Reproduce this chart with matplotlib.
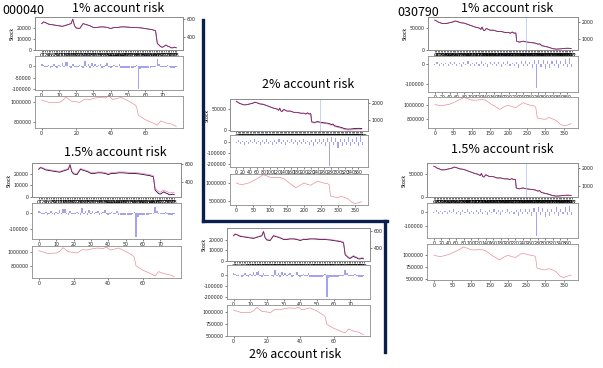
import matplotlib
matplotlib.use('Agg')
import matplotlib.pyplot as plt
from matplotlib.lines import Line2D

# ---- stock 000040 (shared top chart) ----
a_x = [0,1,2,4,6,8,10,12,14,15,17,18,19,20,22,24,25,26,28,30,32,34,36,38,40,42,44,46,48,50,
       52,54,56,58,60,62,64,65,66,67,68,69,70,71,72,73,74,75,76,77,78]
a_stock = [24000,25500,25000,23500,23000,22500,22000,21500,22500,23000,24000,28000,22000,20000,19500,
           24000,23500,23000,22000,20500,20500,21000,21000,20500,19500,20500,20500,21000,21000,20800,
           20500,20500,20300,20000,19500,19000,18500,18000,17500,6000,4500,3000,2500,3500,4500,3500,
           3000,2000,2000,2500,2000]
a_price = [549,567,561,543,537,530,524,518,530,537,549,598,524,500,494,552,543,537,524,506,506,512,
           512,506,494,506,506,512,512,510,506,506,504,500,494,488,482,476,470,329,311,293,287,299,
           311,299,293,280,280,287,280]

a_bar_x = list(range(79))
a_bars_1 = [10,3,-5,-5,2,-8,-3,8,-5,-8, 3,-6,12,-6,15,16,-5,-8,10,-6, -6,-6,2,-3,-8,22,-3,8,-8,12,
            -5,10,-5,3,8,-8,-5,2,12,-5, -8,-5,6,-6,-3,7,-8,-10,-10,-10, -10,-10,-8,-8,-6,6,-100,-15,-8,-8,
            -8,-8,-8,-8,-6,-6,-5,30,10,-6, -5,-6,-5,5,-6,-8,-8,-8,-6]
a_bars_15 = [15,5,-8,-8,3,-12,-5,12,-8,-12, 5,-9,18,-9,22,24,-8,-12,15,-9, -9,-9,3,-5,-12,33,-5,12,-12,18,
             -8,15,-8,5,12,-12,-8,3,18,-8, -12,-8,9,-9,-5,10,-12,-15,-15,-15, -15,-15,-12,-12,-9,9,-150,-22,-12,-12,
             -12,-12,-12,-12,-9,-9,-8,38,15,-9, -8,-9,-8,8,-9,-12,-12,-12,-9]
a_bars_2 = [20,6,-10,-10,4,-16,-6,16,-10,-16, 6,-12,24,-12,30,32,-10,-16,20,-12, -12,-12,4,-6,-16,44,-6,16,-16,24,
            -10,20,-10,6,16,-16,-10,4,24,-10, -16,-10,12,-12,-6,14,-16,-20,-20,-20, -20,-20,-16,-16,-12,12,-200,-30,-16,-16,
            -16,-16,-16,-16,-12,-12,-10,45,20,-12, -10,-12,-10,10,-12,-16,-16,-16,-12]

a_acc_x = [0,5,10,12,14,17,20,22,25,28,31,34,37,39,41,43,46,50,54,55,56,60,64,67,69,72,75,78]
a_acc_1 = [1017000,990000,993000,1010000,1047000,1007000,1000000,993000,1027000,1023000,1037000,1043000,
           1037000,1060000,1023000,1030000,1043000,1010000,970000,950000,867000,823000,793000,767000,
           810000,790000,780000,757000]
a_acc_15 = [1025000,985000,990000,1015000,1070000,1010000,1000000,990000,1040000,1035000,1055000,1065000,
            1055000,1080000,1035000,1045000,1065000,1015000,955000,925000,800000,735000,690000,650000,
            715000,685000,670000,640000]
a_acc_2 = [1040000,985000,990000,1020000,1095000,1015000,1000000,985000,1055000,1045000,1075000,1085000,
           1075000,1100000,1045000,1060000,1085000,1020000,935000,900000,740000,660000,600000,560000,
           640000,600000,575000,525000]

# ---- stock 030790 (shared top chart) ----
b_x = [0,5,10,15,20,30,40,50,55,60,70,80,90,100,110,120,125,128,132,135,140,150,160,170,180,190,200,
       205,210,215,218,220,222,225,230,240,250,260,270,275,280,285,290,300,310,320,330,340,350,360,370]
b_stock = [68000,66000,63000,62000,60000,60000,62000,64000,66000,65000,62000,61000,58000,55000,52000,
           50000,47000,52000,45000,44000,49000,45000,45000,42000,42000,40000,40000,38000,41000,38000,
           39000,38000,20000,19000,18000,20000,18000,17000,16000,15000,13000,14000,10000,8000,6000,
           3000,2000,2500,3500,4000,3500]
b_price = [2110,2060,1985,1960,1905,1905,1960,2010,2060,2035,1960,1930,1855,1775,1700,1645,1570,1700,
           1520,1490,1620,1520,1520,1440,1440,1390,1390,1335,1415,1335,1360,1335,870,845,820,870,820,
           795,765,740,690,715,610,560,510,430,405,420,445,455,445]

b_bar_x = list(range(0, 373, 6))
b_bars_1 = [-5,8,-10,6,-12,4,-8,10,-6,12, -9,5,-15,8,-7,14,-10,6,-12,9, -8,15,-11,7,-13,10,-6,12,-9,8,
            -14,11,-7,16,-10,6,-12,9,-18,13, -8,15,-10,12,-20,18,-120,22,-15,18, -25,14,-20,16,-12,22,-18,15,-10,25,
            -16,28,-14]
b_bars_15 = [-8,12,-15,9,-18,6,-12,15,-9,18, -13,8,-22,12,-10,21,-15,9,-18,13, -12,22,-16,10,-20,15,-9,18,-13,12,
             -21,16,-10,24,-15,9,-18,13,-27,20, -12,22,-15,18,-30,27,-170,33,-22,27, -37,21,-30,24,-18,33,-27,22,-15,37,
             -24,42,-21]
b_bars_2 = [-10,16,-20,12,-24,8,-16,20,-12,24, -18,10,-30,16,-14,28,-20,12,-24,18, -16,30,-22,14,-26,20,-12,24,-18,16,
            -28,22,-14,32,-20,12,-24,18,-36,26, -16,30,-20,24,-40,36,-215,44,-30,36, -50,28,-40,32,-24,44,-36,30,-20,50,
            -32,56,-28]

b_acc_x = [0,10,20,30,40,50,60,70,80,90,100,110,120,130,140,150,160,170,175,180,190,200,210,220,230,240,
           250,260,270,274,278,290,300,310,320,330,340,350,360,370]
b_acc_1 = [1005000,995000,990000,1000000,1010000,1030000,1055000,1080000,1105000,1085000,1067000,1065000,
           1070000,1075000,1060000,1020000,990000,960000,938000,950000,980000,995000,975000,965000,1000000,
           1030000,1010000,995000,985000,965000,820000,805000,800000,827000,805000,780000,735000,710000,
           720000,740000]
b_acc_15 = [1000000,975000,970000,990000,1010000,1045000,1080000,1120000,1170000,1140000,1110000,1105000,
            1110000,1110000,1085000,1030000,975000,930000,900000,915000,960000,995000,965000,950000,1000000,
            1040000,1015000,995000,985000,960000,730000,700000,690000,715000,690000,650000,560000,530000,
            560000,585000]
b_acc_2 = [1000000,965000,960000,985000,1010000,1060000,1110000,1170000,1230000,1200000,1160000,1150000,
           1155000,1150000,1120000,1050000,975000,910000,870000,890000,950000,1000000,960000,940000,1000000,
           1050000,1020000,995000,980000,950000,640000,610000,600000,630000,600000,560000,470000,430000,
           450000,480000]

W, H = 603, 368
fig = plt.figure(figsize=(W / 100, H / 100), dpi=100)
fs = 3.4


def box(x0, x1, y0, y1):
    ax = fig.add_axes([x0 / W, 1 - y1 / H, (x1 - x0) / W, (y1 - y0) / H])
    for s in ax.spines.values():
        s.set_color('#8c8c8c')
        s.set_linewidth(0.6)
    ax.tick_params(labelsize=fs, length=1.5, width=0.4, pad=1, colors='#222222')
    return ax


def ticks(ax, axis, vals):
    if axis == 'x':
        ax.set_xticks(vals)
        ax.set_xticklabels([str(v) for v in vals])
    else:
        ax.set_yticks(vals)
        ax.set_yticklabels([str(v) for v in vals])


def panel(xs, ys, xlim, sx, sv, pv, slim, plim, syt, pyt, top_xt,
          bx, bv, bw, blim, byt, mid_xt, ax_x, av, alim, ayt, bot_xt, vline=None):
    # stock / price
    t = box(xs[0], xs[1], ys[0], ys[1])
    t.plot(sx, sv, color='#2a0638', lw=0.6)
    t.set_xlim(xlim)
    t.set_ylim(slim)
    ticks(t, 'y', syt)
    ticks(t, 'x', top_xt)
    t.tick_params(axis='x', labelsize=3.8, colors='black', pad=0.5)
    t.set_ylabel('Stock', fontsize=fs, labelpad=1)
    t2 = t.twinx()
    t2.plot(sx, pv, color='#e0409a', lw=0.6, alpha=0.55)
    if vline is not None:
        t2.axvline(vline, color='#b0c0e8', lw=0.5)
    t2.set_ylim(plim)
    ticks(t2, 'y', pyt)
    t2.tick_params(labelsize=fs, length=1.5, width=0.4, pad=1, colors='#222222')
    for s in t2.spines.values():
        s.set_color('#8c8c8c')
        s.set_linewidth(0.6)
    # trades
    m = box(xs[0], xs[1], ys[2], ys[3])
    m.bar(bx, [v * 1000 for v in bv], width=bw, color='#5a5ae0', alpha=0.55)
    m.set_xlim(xlim)
    m.set_ylim(blim)
    ticks(m, 'y', byt)
    ticks(m, 'x', mid_xt)
    # account
    b = box(xs[0], xs[1], ys[4], ys[5])
    b.plot(ax_x, av, color='#eb8f9c', lw=0.5)
    b.set_xlim(xlim)
    b.set_ylim(alim)
    ticks(b, 'y', ayt)
    ticks(b, 'x', bot_xt)


a_xlim = (-3.9, 81.9)
b_xlim = (-18.5, 388.5)
a_top = list(range(79))
b_top = list(range(0, 373, 4))

# 000040 1%
panel((35, 183), (17, 50, 56, 90, 96, 128), a_xlim, a_x, a_stock, a_price, (0, 30000), (256, 622),
      [0, 10000, 20000], [400, 600], a_top,
      a_bar_x, a_bars_1, 0.9, (-104000, 43000), [0, -50000, -100000], list(range(0, 71, 10)),
      a_acc_x, a_acc_1, (740000, 1057000), [800000, 1000000], [0, 20, 40, 60])
# 000040 1.5%
panel((32, 181), (163, 197, 203, 239, 246, 278), a_xlim, a_x, a_stock, a_price, (0, 29500), (233, 611),
      [0, 10000, 20000], [400, 600], a_top,
      a_bar_x, a_bars_15, 0.9, (-162000, 62000), [0, -100000], list(range(0, 71, 10)),
      a_acc_x, a_acc_15, (620000, 1095000), [800000, 1000000], [0, 20, 40, 60])
# 000040 2%
panel((227, 370), (228, 261, 265, 299, 305, 336), a_xlim, a_x, a_stock, a_price, (0, 31400), (247, 635),
      [0, 10000, 20000], [400, 600], a_top,
      a_bar_x, a_bars_2, 0.9, (-218000, 91000), [0, -100000, -200000], list(range(0, 71, 10)),
      a_acc_x, a_acc_2, (495000, 1146000), [500000, 750000, 1000000], [0, 20, 40, 60])
# 030790 2%
panel((230, 368), (99, 131, 135, 167, 174, 205), b_xlim, b_x, b_stock, b_price, (-2400, 73800), (353, 2235),
      [0, 50000], [1000, 2000], b_top,
      b_bar_x, b_bars_2, 3, (-227000, 64000), [0, -100000, -200000], list(range(0, 361, 20)),
      b_acc_x, b_acc_2, (390000, 1250000), [500000, 1000000], list(range(0, 351, 50)), vline=248)
# 030790 1%
panel((428, 578), (17, 50, 56, 92, 97, 128), b_xlim, b_x, b_stock, b_price, (0, 75000), (353, 2294),
      [0, 50000], [1000, 2000], b_top,
      b_bar_x, b_bars_1, 3, (-140000, 40000), [0, -100000], list(range(0, 361, 20)),
      b_acc_x, b_acc_1, (680000, 1110000), [800000, 1000000], list(range(0, 351, 50)), vline=248)
# 030790 1.5%
panel((427, 578), (163, 197, 203, 238, 244, 280), b_xlim, b_x, b_stock, b_price, (0, 75000), (353, 2294),
      [0, 50000], [1000, 2000], b_top,
      b_bar_x, b_bars_15, 3, (-186000, 64000), [0, -100000], list(range(0, 361, 20)),
      b_acc_x, b_acc_15, (480000, 1229000), [500000, 750000, 1000000], list(range(0, 351, 50)), vline=248)

# titles
tf = ['Noto Sans CJK KR', 'DejaVu Sans']
fig.text(2 / W, 1 - 11 / H, '000040', ha='left', va='center', fontsize=9, family=tf)
fig.text(397 / W, 1 - 12 / H, '030790', ha='left', va='center', fontsize=9, family=tf)
for x, y, s in [(118, 9, '1% account risk'), (115, 152, '1.5% account risk'),
                (308, 85, '2% account risk'), (295, 355, '2% account risk'),
                (507, 8, '1% account risk'), (502, 150, '1.5% account risk')]:
    fig.text(x / W, 1 - y / H, s, ha='center', va='center', fontsize=9, family=tf)

# navy separators
navy = '#0b1f4f'
for xx, yy in [((203, 203), (20, 221)), ((203, 387), (221, 221)), ((385, 385), (221, 352))]:
    fig.add_artist(Line2D([xx[0] / W, xx[1] / W], [1 - yy[0] / H, 1 - yy[1] / H],
                          color=navy, lw=2.4, solid_capstyle='projecting'))

fig.savefig('out.png', dpi=100)
